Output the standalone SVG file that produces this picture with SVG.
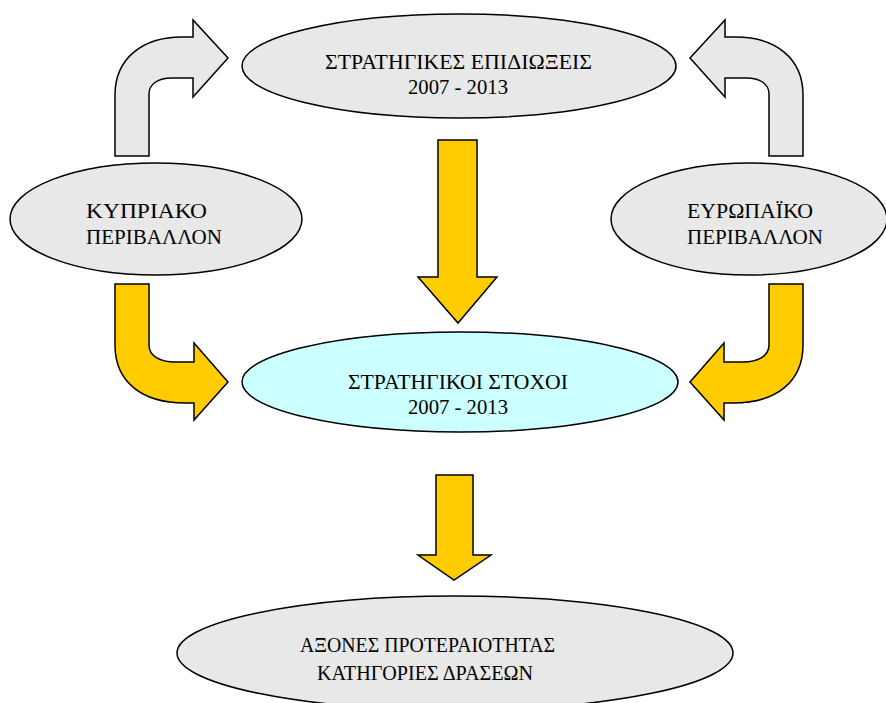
<svg xmlns="http://www.w3.org/2000/svg" width="886" height="703" viewBox="0 0 886 703">
<style>
.grey{fill:#e8e8e8;stroke:#000;stroke-width:1.5}
.cyan{fill:#ccffff;stroke:#000;stroke-width:1.5}
.garrow{fill:#e8e8e8;stroke:#000;stroke-width:1.5;stroke-linejoin:miter}
.yarrow{fill:#ffcc00;stroke:#000;stroke-width:1.5;stroke-linejoin:miter}
text{font-family:"Liberation Serif","Times New Roman",serif;font-size:21px;fill:#000;text-anchor:start}
</style>
<rect width="886" height="703" fill="#fff"/>
<g id="connectors">
<path id="arrow-cy-top" class="garrow" d="M115,156 V95 C115,58 143,37 182,37 H193 V20 L228,58 L193,97 V78 H172 C158,78 149,84 149,94 V156 Z"/>
<path id="arrow-eu-top" class="garrow" transform="translate(918,0) scale(-1,1)" d="M115,156 V95 C115,58 143,37 182,37 H193 V20 L228,58 L193,97 V78 H172 C158,78 149,84 149,94 V156 Z"/>
<path id="arrow-cy-goals" class="yarrow" d="M115,284 H149 V345 C149,356 160,362 175,362 H194 V343 L228,382 L194,420 V403 H185 C142,403 115,382 115,345 Z"/>
<path id="arrow-eu-goals" class="yarrow" transform="translate(918,0) scale(-1,1)" d="M115,284 H149 V345 C149,356 160,362 175,362 H194 V343 L228,382 L194,420 V403 H185 C142,403 115,382 115,345 Z"/>
<path id="arrow-strat-goals" class="yarrow" d="M438,140 H477 V277 H497 L458,323 L418,277 H438 Z"/>
<path id="arrow-goals-axes" class="yarrow" d="M436,475 H473 V555 H491 L454,580 L418,555 H436 Z"/>
</g>
<g id="node-strategic-pursuits">
<ellipse class="grey" cx="459" cy="66" rx="217" ry="52"/>
<text x="325" y="69" textLength="267" lengthAdjust="spacingAndGlyphs">ΣΤΡΑΤΗΓΙΚΕΣ ΕΠΙΔΙΩΞΕΙΣ</text>
<text x="408" y="94" textLength="100" lengthAdjust="spacingAndGlyphs">2007 - 2013</text>
</g>
<g id="node-cyprus">
<ellipse class="grey" cx="156" cy="219" rx="146" ry="56"/>
<text x="86" y="218" textLength="121" lengthAdjust="spacingAndGlyphs">ΚΥΠΡΙΑΚΟ</text>
<text x="86" y="244" textLength="136" lengthAdjust="spacingAndGlyphs">ΠΕΡΙΒΑΛΛΟΝ</text>
</g>
<g id="node-europe">
<ellipse class="grey" cx="749" cy="219" rx="138" ry="56"/>
<text x="687" y="218" textLength="126" lengthAdjust="spacingAndGlyphs">ΕΥΡΩΠΑΪΚΟ</text>
<text x="687" y="244" textLength="136" lengthAdjust="spacingAndGlyphs">ΠΕΡΙΒΑΛΛΟΝ</text>
</g>
<g id="node-strategic-goals">
<ellipse class="cyan" cx="460" cy="382" rx="218" ry="50"/>
<text x="348" y="389" textLength="220" lengthAdjust="spacingAndGlyphs">ΣΤΡΑΤΗΓΙΚΟΙ ΣΤΟΧΟΙ</text>
<text x="408" y="414" textLength="100" lengthAdjust="spacingAndGlyphs">2007 - 2013</text>
</g>
<g id="node-priority-axes">
<ellipse class="grey" cx="455" cy="653" rx="278" ry="57"/>
<text x="300" y="652" textLength="255" lengthAdjust="spacingAndGlyphs">ΑΞΟΝΕΣ ΠΡΟΤΕΡΑΙΟΤΗΤΑΣ</text>
<text x="317" y="680" textLength="216" lengthAdjust="spacingAndGlyphs">ΚΑΤΗΓΟΡΙΕΣ ΔΡΑΣΕΩΝ</text>
</g>
</svg>
